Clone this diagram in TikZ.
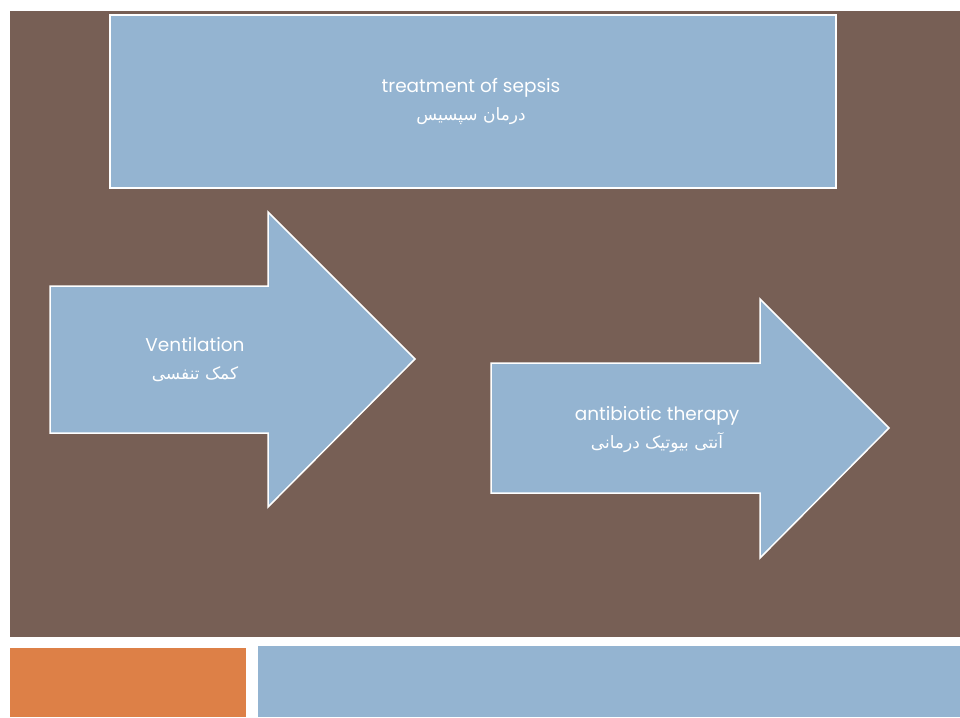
\documentclass[tikz,border=0pt]{standalone}
\usepackage{fontspec}
\setmainfont{Poppins}
\newfontfamily\arabicfont[Script=Arabic]{DejaVu Sans}
\TeXXeTstate=1
\definecolor{slidebrown}{HTML}{775F55}
\definecolor{slideblue}{HTML}{94B4D1}
\definecolor{slideorange}{HTML}{DD8047}
\tikzset{
  panel/.style={fill=slideblue, draw=white, line width=1.5pt},
  label/.style={text=white, align=center, font=\fontsize{18.5}{28}\selectfont},
}
\newcommand{\fa}[1]{{\arabicfont\fontsize{17}{28}\selectfont\beginR #1\endR}}

\begin{document}
\begin{tikzpicture}[x=1pt, y=-1pt]
  \useasboundingbox[fill=white] (0,0) rectangle (960,717);
  % slide body and footer
  \fill[slidebrown] (10,11) rectangle (960,637);
  \fill[slideorange] (10,648) rectangle (246,717);
  \fill[slideblue] (258,646) rectangle (960,717);
  % title box
  \draw[panel] (110,15) rectangle (836,188);
  \node[label] (title) at (471,102) {treatment of sepsis\\\fa{درمان سپسیس}};
  % arrows
  \draw[panel] (50,286) -- (268,286) -- (268,212) -- (415,359)
    -- (268,507) -- (268,433) -- (50,433) -- cycle;
  \node[label] (vent) at (195,360) {Ventilation\\\fa{کمک تنفسی}};
  \draw[panel] (491,363) -- (760,363) -- (760,299) -- (889,428)
    -- (760,558) -- (760,493) -- (491,493) -- cycle;
  \node[label] (abx) at (657,430) {antibiotic therapy\\\fa{آنتی بیوتیک درمانی}};
\end{tikzpicture}
\end{document}
